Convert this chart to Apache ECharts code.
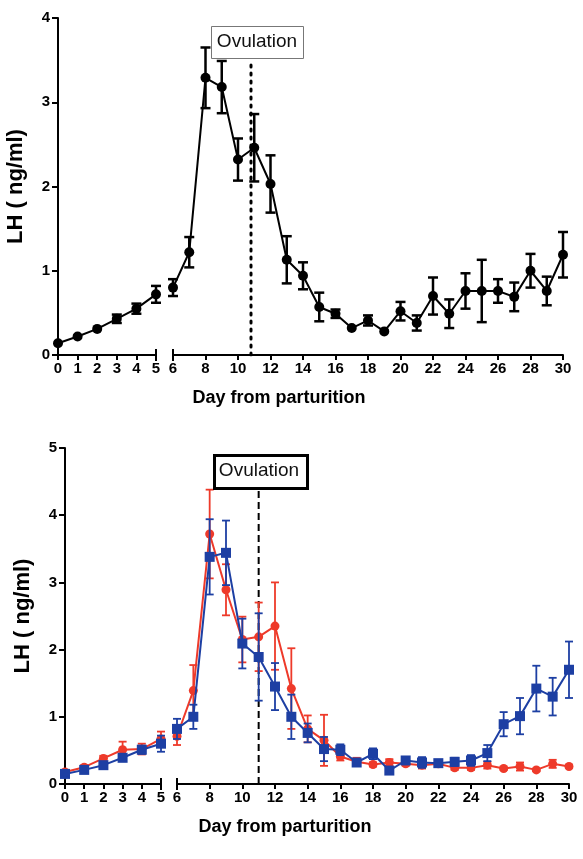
<!DOCTYPE html>
<html>
<head>
<meta charset="utf-8">
<script src="https://cdn.jsdelivr.net/npm/echarts@6/dist/echarts.min.js"></script>
<style>
  html, body { margin: 0; padding: 0; background: #fff; }
  #main { width: 583px; height: 859px; }
</style>
</head>
<body>
<div id="main"></div>
<script>
// days 0..30, axis is broken between day 5 and day 6
const days = [0, 1, 2, 3, 4, 5, 6, 7, 8, 9, 10, 11, 12, 13, 14, 15, 16, 17, 18, 19, 20, 21, 22, 23, 24, 25, 26, 27, 28, 29, 30];

// top panel (all animals)
const topMean = [0.14, 0.22, 0.31, 0.43, 0.55, 0.72, 0.80, 1.22, 3.29, 3.18, 2.32, 2.46, 2.03, 1.13, 0.94, 0.57, 0.49, 0.32, 0.41, 0.28, 0.52, 0.38, 0.70, 0.49, 0.76, 0.76, 0.76, 0.69, 1.00, 0.76, 1.19];
const topErr = [0, 0, 0, 0.05, 0.06, 0.10, 0.10, 0.18, 0.36, 0.31, 0.25, 0.40, 0.34, 0.28, 0.16, 0.17, 0.05, 0, 0.06, 0, 0.11, 0.09, 0.22, 0.17, 0.21, 0.37, 0.14, 0.17, 0.20, 0.17, 0.27];

// bottom panel, red circles
const redMean = [0.18, 0.25, 0.38, 0.51, 0.52, 0.67, 0.71, 1.39, 3.72, 2.89, 2.15, 2.19, 2.35, 1.42, 0.82, 0.65, 0.41, 0.33, 0.29, 0.32, 0.30, 0.28, 0.30, 0.24, 0.24, 0.28, 0.23, 0.26, 0.21, 0.30, 0.26];
const redErr = [0.03, 0.03, 0.04, 0.12, 0.08, 0.11, 0.13, 0.38, 0.66, 0.38, 0.34, 0.51, 0.65, 0.60, 0.20, 0.38, 0.06, 0.06, 0.03, 0.05, 0.03, 0.05, 0.03, 0.03, 0.03, 0.05, 0.02, 0.06, 0.02, 0.06, 0.02];

// bottom panel, blue squares
const blueMean = [0.15, 0.21, 0.28, 0.39, 0.51, 0.60, 0.82, 1.00, 3.38, 3.44, 2.09, 1.89, 1.45, 1.00, 0.76, 0.52, 0.51, 0.32, 0.45, 0.20, 0.35, 0.32, 0.31, 0.33, 0.35, 0.46, 0.89, 1.01, 1.42, 1.30, 1.70];
const blueErr = [0.03, 0.03, 0.04, 0.05, 0.06, 0.12, 0.15, 0.18, 0.56, 0.48, 0.37, 0.65, 0.35, 0.33, 0.14, 0.18, 0.08, 0.04, 0.08, 0.04, 0.05, 0.08, 0.03, 0.06, 0.08, 0.12, 0.18, 0.27, 0.34, 0.28, 0.42];

const topOvulation = 10.8;
const bottomOvulation = 11;

const FONT = '"Liberation Sans", Arial, Helvetica, sans-serif';
const RED = '#ee3a2a';
const BLUE = '#1d3fa3';

function pairs(mean, from, to) {
  const out = [];
  for (let i = from; i <= to; i++) out.push([days[i], mean[i]]);
  return out;
}

function bars(mean, err, from, to) {
  const out = [];
  for (let i = from; i <= to; i++) {
    if (err[i] > 0) out.push([days[i], mean[i] - err[i], mean[i] + err[i]]);
  }
  return out;
}

function errSeries(data, axis, color, width, capW, z) {
  return {
    type: 'custom', xAxisIndex: axis, yAxisIndex: axis, data, z,
    renderItem(params, api) {
      const lo = api.coord([api.value(0), api.value(1)]);
      const hi = api.coord([api.value(0), api.value(2)]);
      const style = { stroke: color, lineWidth: width };
      return {
        type: 'group', children: [
          { type: 'line', shape: { x1: lo[0], y1: lo[1], x2: hi[0], y2: hi[1] }, style },
          { type: 'line', shape: { x1: lo[0] - capW / 2, y1: lo[1], x2: lo[0] + capW / 2, y2: lo[1] }, style },
          { type: 'line', shape: { x1: hi[0] - capW / 2, y1: hi[1], x2: hi[0] + capW / 2, y2: hi[1] }, style }
        ]
      };
    }
  };
}

function lineSeries(data, axis, color, symbol, size, width, z) {
  return {
    type: 'line', xAxisIndex: axis, yAxisIndex: axis, data, z,
    symbol, symbolSize: size, showSymbol: true,
    lineStyle: { color, width }, itemStyle: { color },
    animation: false
  };
}

// small vertical marks at the ends of the broken axis
function capSeries(x, axis) {
  return {
    type: 'custom', xAxisIndex: axis, yAxisIndex: axis, data: [[x, 0]], z: 5,
    renderItem(params, api) {
      const p = api.coord([api.value(0), api.value(1)]);
      return { type: 'line', shape: { x1: p[0], y1: p[1] - 6, x2: p[0], y2: p[1] + 6 }, style: { stroke: '#000', lineWidth: 2 } };
    }
  };
}

function xAx(grid, min, max, interval) {
  return {
    type: 'value', gridIndex: grid, min, max, interval,
    axisLine: { onZero: false, lineStyle: { color: '#000', width: 2 } },
    axisTick: { length: 5, lineStyle: { color: '#000', width: 2 } },
    axisLabel: { color: '#000', fontWeight: 'bold', fontSize: 15, fontFamily: FONT, margin: 6, showMinLabel: true, showMaxLabel: true },
    splitLine: { show: false }
  };
}

function yAx(grid, max, visible) {
  return {
    type: 'value', gridIndex: grid, min: 0, max, interval: 1, show: visible,
    name: visible ? 'LH ( ng/ml)' : '', nameLocation: 'middle', nameGap: 31, nameRotate: 90,
    nameTextStyle: { color: '#000', fontWeight: 'bold', fontSize: 22, fontFamily: FONT },
    axisLine: { show: true, onZero: false, lineStyle: { color: '#000', width: 2 } },
    axisTick: { show: true, length: 6, lineStyle: { color: '#000', width: 2 } },
    axisLabel: { color: '#000', fontWeight: 'bold', fontSize: 15, fontFamily: FONT, margin: 8 },
    splitLine: { show: false }
  };
}

const chart = echarts.init(document.getElementById('main'));

const option = {
  backgroundColor: '#fff',
  animation: false,
  grid: [
    { left: 58, top: 18, width: 98, height: 337 },
    { left: 173, top: 18, width: 390, height: 337 },
    { left: 65, top: 448, width: 96, height: 336 },
    { left: 177, top: 448, width: 392, height: 336 }
  ],
  xAxis: [xAx(0, 0, 5, 1), xAx(1, 6, 30, 2), xAx(2, 0, 5, 1), xAx(3, 6, 30, 2)],
  yAxis: [yAx(0, 4, true), yAx(1, 4, false), yAx(2, 5, true), yAx(3, 5, false)],
  graphic: [
    { type: 'rect', left: 211, top: 26, shape: { width: 92, height: 32 }, style: { fill: '#fff', stroke: '#777', lineWidth: 1 }, z: 10 },
    { type: 'text', x: 257, y: 42, style: { text: 'Ovulation', fill: '#111', font: '19px ' + FONT, align: 'center', verticalAlign: 'middle' }, z: 11 },
    { type: 'rect', left: 213, top: 454, shape: { width: 93, height: 33 }, style: { fill: '#fff', stroke: '#000', lineWidth: 3 }, z: 10 },
    { type: 'text', x: 259, y: 471, style: { text: 'Ovulation', fill: '#111', font: '19px ' + FONT, align: 'center', verticalAlign: 'middle' }, z: 11 },
    { type: 'text', x: 279, y: 398, style: { text: 'Day from parturition', fill: '#000', font: 'bold 18px ' + FONT, align: 'center', verticalAlign: 'middle' } },
    { type: 'text', x: 285, y: 827, style: { text: 'Day from parturition', fill: '#000', font: 'bold 18px ' + FONT, align: 'center', verticalAlign: 'middle' } }
  ],
  series: [
    // top panel
    {
      type: 'line', xAxisIndex: 1, yAxisIndex: 1, data: [[topOvulation, 0], [topOvulation, 3.48]],
      symbol: 'none', lineStyle: { color: '#000', width: 3, type: [2, 6], cap: 'round' }, z: 1
    },
    errSeries(bars(topMean, topErr, 0, 5), 0, '#000', 2.5, 10, 2),
    errSeries(bars(topMean, topErr, 6, 30), 1, '#000', 2.5, 10, 2),
    lineSeries(pairs(topMean, 0, 5), 0, '#000', 'circle', 10, 2, 3),
    lineSeries(pairs(topMean, 6, 30), 1, '#000', 'circle', 10, 2, 3),
    capSeries(5, 0), capSeries(6, 1),

    // bottom panel
    {
      type: 'line', xAxisIndex: 3, yAxisIndex: 3, data: [[bottomOvulation, 0], [bottomOvulation, 4.42]],
      symbol: 'none', lineStyle: { color: '#000', width: 2, type: [7, 4] }, z: 1
    },
    errSeries(bars(redMean, redErr, 0, 5), 2, RED, 1.8, 8, 2),
    errSeries(bars(redMean, redErr, 6, 30), 3, RED, 1.8, 8, 2),
    lineSeries(pairs(redMean, 0, 5), 2, RED, 'circle', 9, 2, 3),
    lineSeries(pairs(redMean, 6, 30), 3, RED, 'circle', 9, 2, 3),
    errSeries(bars(blueMean, blueErr, 0, 5), 2, BLUE, 1.8, 8, 4),
    errSeries(bars(blueMean, blueErr, 6, 30), 3, BLUE, 1.8, 8, 4),
    lineSeries(pairs(blueMean, 0, 5), 2, BLUE, 'rect', 10, 2, 5),
    lineSeries(pairs(blueMean, 6, 30), 3, BLUE, 'rect', 10, 2, 5),
    capSeries(5, 2), capSeries(6, 3)
  ]
};

chart.setOption(option);
</script>
</body>
</html>
